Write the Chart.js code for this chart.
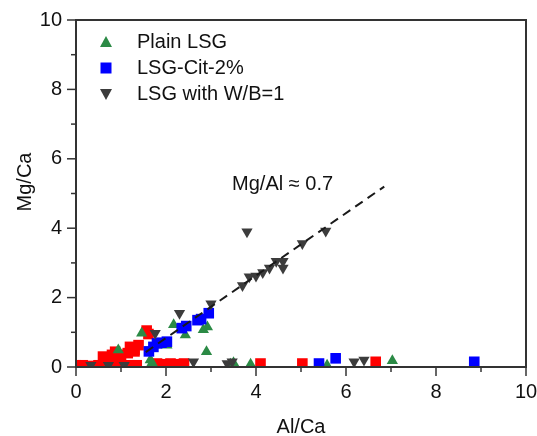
<!DOCTYPE html>
<html><head><meta charset="utf-8">
<script src="https://cdn.jsdelivr.net/npm/chart.js@4/dist/chart.umd.min.js"></script>
<style>html,body{margin:0;padding:0;background:#fff}#wrap{width:537px;height:436px}</style>
</head><body><div id="wrap"><canvas id="c" width="537" height="436"></canvas></div>
<script>
// ---- data (Al/Ca, Mg/Ca) ----
const plainLSG = [[0.94,0.49],[1.46,0.97],[1.65,0.2],[1.69,0.12],[2.02,0.63],[2.17,1.22],[2.43,0.92],[2.83,1.07],[2.92,1.15],[2.9,0.44],[3.43,0.08],[3.5,0.12],[3.88,0.08],[5.58,0.05],[7.03,0.18]];
const lsgCit2 = [[1.62,0.45],[1.72,0.58],[1.8,0.68],[1.9,0.7],[2.02,0.73],[2.35,1.12],[2.45,1.18],[2.7,1.35],[2.78,1.38],[2.95,1.55],[5.4,0.1],[5.77,0.25],[8.85,0.15]];
const lsgWB1 = [[0.33,0.05],[0.72,0.05],[1.07,0.05],[1.76,0.97],[2.3,1.55],[3.0,1.82],[2.61,0.15],[3.36,0.1],[3.47,0.15],[3.7,2.35],[3.85,2.6],[4.0,2.62],[4.15,2.72],[4.3,2.85],[4.45,3.05],[4.6,3.05],[4.6,2.85],[5.03,3.56],[5.55,3.92],[3.8,3.9],[6.18,0.15],[6.4,0.2]];
const otherRed = [[0.0,0.05],[0.15,0.05],[0.3,0.03],[0.5,0.05],[0.65,0.08],[0.85,0.05],[1.0,0.05],[1.2,0.05],[1.35,0.05],[0.6,0.3],[0.8,0.35],[1.0,0.35],[1.15,0.4],[1.3,0.45],[0.87,0.44],[1.2,0.58],[1.39,0.63],[1.3,0.5],[1.57,1.05],[1.61,0.95],[1.8,0.1],[1.95,0.08],[2.1,0.1],[2.25,0.08],[2.4,0.1],[4.1,0.1],[5.03,0.1],[6.66,0.15]];
const fitLine = [[1.55,0.43],[6.85,5.2]];
const xTicks = [0,2,4,6,8,10];
const yTicks = [0,2,4,6,8,10];
const seriesNames = ['Plain LSG','LSG-Cit-2%','LSG with W/B=1'];
const xTitle = 'Al/Ca', yTitle = 'Mg/Ca';
const annotationText = 'Mg/Al \u2248 0.7';
const annotationPos = [4.59,5.27];

const FONT = '"Liberation Sans", Arial, Helvetica, sans-serif';
const FS = 20;
const GREEN = '#2b8a45', BLUE = '#0000ff', GREY = '#3c3c3c', RED = '#ff0000';
const pts = a => a.map(p => ({x:p[0], y:p[1]}));

function drawMarker(ctx, style, x, y, color){
  ctx.save(); ctx.fillStyle = color; ctx.beginPath();
  if (style === 'up'){ ctx.moveTo(x, y-6); ctx.lineTo(x+6, y+5); ctx.lineTo(x-6, y+5); }
  else if (style === 'down'){ ctx.moveTo(x, y+6); ctx.lineTo(x+6, y-5); ctx.lineTo(x-6, y-5); }
  else { ctx.rect(x-5.5, y-5.5, 11, 11); }
  ctx.closePath(); ctx.fill(); ctx.restore();
}

const decor = {
  id:'decor',
  afterDraw(chart){
    const {ctx, chartArea:a, scales:{x, y}} = chart;
    ctx.save();
    ctx.strokeStyle = '#333'; ctx.lineWidth = 2;
    ctx.strokeRect(a.left, a.top, a.right-a.left, a.bottom-a.top);
    ctx.lineWidth = 1.5;
    for (let v = 0; v <= 10; v++){
      const len = v % 2 === 0 ? 9 : 5;
      const px = x.getPixelForValue(v);
      ctx.beginPath(); ctx.moveTo(px, a.bottom); ctx.lineTo(px, a.bottom+len); ctx.stroke();
      const py = y.getPixelForValue(v);
      ctx.beginPath(); ctx.moveTo(a.left, py); ctx.lineTo(a.left-len, py); ctx.stroke();
    }
    ctx.fillStyle = '#111'; ctx.font = FS + 'px ' + FONT; ctx.textAlign = 'center'; ctx.textBaseline = 'middle';
    // axis titles
    ctx.fillText(xTitle, (a.left + a.right)/2, 427);
    ctx.save(); ctx.translate(25, 182); ctx.rotate(-Math.PI/2); ctx.fillText(yTitle, 0, 0); ctx.restore();
    // annotation
    ctx.fillText(annotationText, x.getPixelForValue(annotationPos[0]), y.getPixelForValue(annotationPos[1]));
    // legend
    const styles = ['up','square','down'], cols = [GREEN, BLUE, GREY];
    ctx.textAlign = 'left';
    seriesNames.forEach((n, i) => {
      const ly = a.top + 22 + i*26;
      drawMarker(ctx, styles[i], a.left + 30, ly, cols[i]);
      ctx.fillStyle = '#111';
      ctx.fillText(n, a.left + 61, ly);
    });
    ctx.restore();
  }
};

function zeroPad(s){ s.paddingLeft = 0; s.paddingRight = 0; s.paddingTop = 0; s.paddingBottom = 0; }

new Chart(document.getElementById('c'), {
  type:'scatter',
  data:{ datasets:[
    {label:seriesNames[0], data:pts(plainLSG), pointStyle:'triangle', pointRadius:6.5, backgroundColor:GREEN, borderColor:GREEN, borderWidth:0, order:3},
    {label:seriesNames[1], data:pts(lsgCit2), pointStyle:'rect', pointRadius:7.5, backgroundColor:BLUE, borderColor:BLUE, borderWidth:0, order:2},
    {label:seriesNames[2], data:pts(lsgWB1), pointStyle:'triangle', rotation:180, pointRadius:6.5, backgroundColor:GREY, borderColor:GREY, borderWidth:0, order:1},
    {label:'other', data:pts(otherRed), pointStyle:'rect', pointRadius:7.5, backgroundColor:RED, borderColor:RED, borderWidth:0, order:4},
    {label:'fit', type:'line', data:pts(fitLine), showLine:true, borderColor:'#1a1a1a', borderWidth:2, borderDash:[9,6], pointRadius:0, fill:false, order:0}
  ]},
  options:{
    responsive:false, animation:false, devicePixelRatio:1,
    layout:{padding:{top:20, right:11, left:0, bottom:0}},
    plugins:{legend:{display:false}, tooltip:{enabled:false}},
    scales:{
      x:{type:'linear', min:0, max:10, afterFit(s){ s.height = 69; zeroPad(s); },
        afterBuildTicks(s){ s.ticks = xTicks.map(v => ({value:v})); },
        grid:{display:false, drawTicks:false}, border:{display:false},
        ticks:{padding:13, color:'#111', font:{family:FONT, size:FS}},
        title:{display:false}},
      y:{type:'linear', min:0, max:10, afterFit(s){ s.width = 76; zeroPad(s); },
        afterBuildTicks(s){ s.ticks = yTicks.map(v => ({value:v})); },
        grid:{display:false, drawTicks:false}, border:{display:false},
        ticks:{padding:14, color:'#111', font:{family:FONT, size:FS}},
        title:{display:false}}
    }
  },
  plugins:[decor]
});
</script></body></html>
